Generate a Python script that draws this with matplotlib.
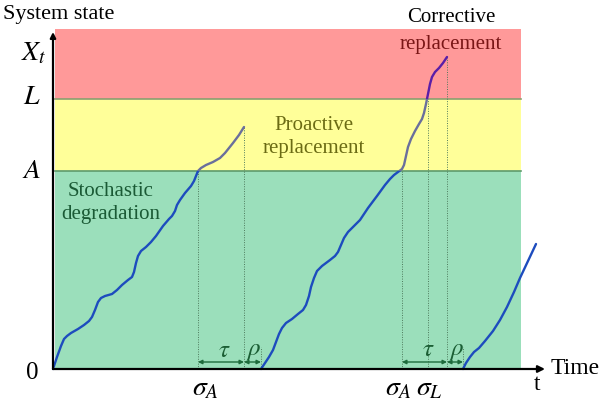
import matplotlib.pyplot as plt
from matplotlib.patches import Rectangle
import numpy as np

plt.rcParams['font.family'] = ['Liberation Serif', 'DejaVu Serif']
plt.rcParams['mathtext.fontset'] = 'stix'

# state thresholds (drawing units)
level_A = 198
level_L = 270
level_top = 340
band_left, band_right = 2, 468

# degradation paths, (time, state)
path1_t = [0, 4, 8, 11, 14, 18, 25, 31, 36, 39, 42, 45, 48, 52, 59, 64, 69, 75, 79, 81,
           83, 85, 88, 93, 98, 103, 110, 116, 119, 122, 124, 127, 132, 138, 141, 143,
           145, 148, 153, 160, 167, 172, 180, 186, 191]
path1_x = [0, 12, 23, 30, 33, 36, 40, 44, 48, 52, 59, 67, 71, 73, 75, 79, 84, 89, 92, 97,
           106, 113, 118, 122, 127, 133, 143, 150, 153, 158, 164, 169, 176, 183, 188, 193,
           198, 201, 204, 207, 211, 216, 226, 234, 242]

path2_t = [208, 212, 216, 220, 223, 226, 229, 233, 239, 245, 250, 253, 256, 258, 261,
           264, 269, 277, 282, 285, 288, 291, 295, 301, 307, 315, 324, 332, 337, 341,
           345, 349, 351, 353, 355, 358, 362, 366, 369, 371, 373, 375, 377, 379, 382,
           386, 390, 394]
path2_x = [0, 6, 12, 19, 27, 35, 41, 46, 50, 55, 59, 64, 73, 82, 91, 98, 103, 109, 113,
           117, 124, 131, 137, 143, 149, 161, 173, 184, 190, 194, 197, 200, 204, 213, 222,
           230, 238, 245, 250, 256, 265, 275, 285, 292, 297, 301, 306, 312]

path3_t = [410, 413, 417, 421, 426, 432, 440, 447, 454, 461, 467, 475, 483]
path3_x = [0, 6, 12, 17, 21, 28, 38, 49, 62, 77, 91, 108, 125]

# event times
sigma_A1, end1, restart1 = 145, 191, 208
sigma_A2, sigma_L2, end2, restart2 = 349, 375, 394, 410
end1_x = 242
end2_x = 312

fig = plt.figure(figsize=(6.02, 4.0), dpi=100)
ax = fig.add_axes([0, 0, 1, 1])
ax.set_xlim(-53, 549)
ax.set_ylim(-31, 369)
ax.axis('off')

# condition bands
ax.add_patch(Rectangle((band_left, 0), band_right - band_left, level_A,
                       facecolor='#9bdfbb', edgecolor='none', zorder=0))
ax.add_patch(Rectangle((band_left, level_A), band_right - band_left, level_L - level_A,
                       facecolor='#ffff99', edgecolor='none', zorder=0))
ax.add_patch(Rectangle((band_left, level_L), band_right - band_left, level_top - level_L,
                       facecolor='#ff9999', edgecolor='none', zorder=0))
ax.plot([band_left, band_right], [level_A, level_A], color='#5e9a6c', lw=1.2, zorder=1)
ax.plot([band_left, band_right], [level_L, level_L], color='#8aa070', lw=1.2, zorder=1)

# dotted event markers
dot = dict(color='#4d7a5c', lw=0.7, linestyle=(0, (1, 1.5)), zorder=2)
ax.plot([sigma_A1, sigma_A1], [0, level_A], **dot)
ax.plot([end1, end1], [0, end1_x], **dot)
ax.plot([restart1, restart1], [0, 22], **dot)
ax.plot([sigma_A2, sigma_A2], [0, level_A], **dot)
ax.plot([sigma_L2, sigma_L2], [0, level_L], **dot)
ax.plot([end2, end2], [0, end2_x], **dot)
ax.plot([restart2, restart2], [0, 22], **dot)

# curve colour depends on which band it is in
zones = [(-100, level_A, '#1d4cbe'), (level_A, level_L, '#6a6f9c'), (level_L, 500, '#5a1ea8')]
for t, x in [(path1_t, path1_x), (path2_t, path2_x), (path3_t, path3_x)]:
    for lo, hi, c in zones:
        ln, = ax.plot(t, x, color=c, lw=1.7, solid_joinstyle='round',
                      solid_capstyle='round', zorder=3)
        clip = Rectangle((-100, lo), 800, hi - lo, transform=ax.transData)
        ln.set_clip_path(clip)

# tau / rho spans
arr = dict(arrowstyle='<|-|>', color='#1e6b3c', lw=1.0, mutation_scale=6,
           shrinkA=0, shrinkB=0)
for a, b in [(sigma_A1, end1), (end1, restart1), (sigma_A2, end2), (end2, restart2)]:
    ax.annotate('', xy=(b, 7), xytext=(a, 7), arrowprops=arr, zorder=4)
gc = '#1b5e34'
ax.text(171, 18, r'$\tau$', color=gc, fontsize=18, ha='center', va='center')
ax.text(200, 18, r'$\rho$', color=gc, fontsize=18, ha='center', va='center')
ax.text(375, 19, r'$\tau$', color=gc, fontsize=18, ha='center', va='center')
ax.text(403, 18, r'$\rho$', color=gc, fontsize=18, ha='center', va='center')

# axes with arrow heads
ax.annotate('', xy=(492, 0), xytext=(0, 0),
            arrowprops=dict(arrowstyle='-|>', color='black', lw=1.6,
                            mutation_scale=10, shrinkA=0, shrinkB=0), zorder=5)
ax.annotate('', xy=(0, 337), xytext=(0, 0),
            arrowprops=dict(arrowstyle='-|>', color='black', lw=1.6,
                            mutation_scale=8, shrinkA=0, shrinkB=0), zorder=5)

# axis annotations
ax.text(-50, 354, 'System state', fontsize=16, ha='left', va='center')
ax.text(-19, 315, r'$X_t$', fontsize=20, ha='center', va='center')
ax.text(-21, level_L + 2, r'$L$', fontsize=20, ha='center', va='center')
ax.text(-21, level_A - 1, r'$A$', fontsize=20, ha='center', va='center')
ax.text(-21, -4, '0', fontsize=18, ha='center', va='center')
ax.text(152, -20, r'$\sigma_A$', fontsize=20, ha='center', va='center')
ax.text(345, -20, r'$\sigma_A$', fontsize=20, ha='center', va='center')
ax.text(376, -20, r'$\sigma_L$', fontsize=20, ha='center', va='center')
ax.text(484, -16, 't', fontsize=17, ha='center', va='center')
ax.text(522, 0, 'Time', fontsize=17, ha='center', va='center')

# region labels
ax.text(58, 166, 'Stochastic\ndegradation', color='#1a5a35', fontsize=15,
        ha='center', va='center', linespacing=1.25)
ax.text(261, 232, 'Proactive\nreplacement', color='#6b6b14', fontsize=15,
        ha='center', va='center', linespacing=1.25)
ax.text(398, 351, 'Corrective', color='black', fontsize=15, ha='center', va='center')
ax.text(398, 324, 'replacement', color='#7a1616', fontsize=15, ha='center', va='center')

fig.savefig('out.png', dpi=100)
